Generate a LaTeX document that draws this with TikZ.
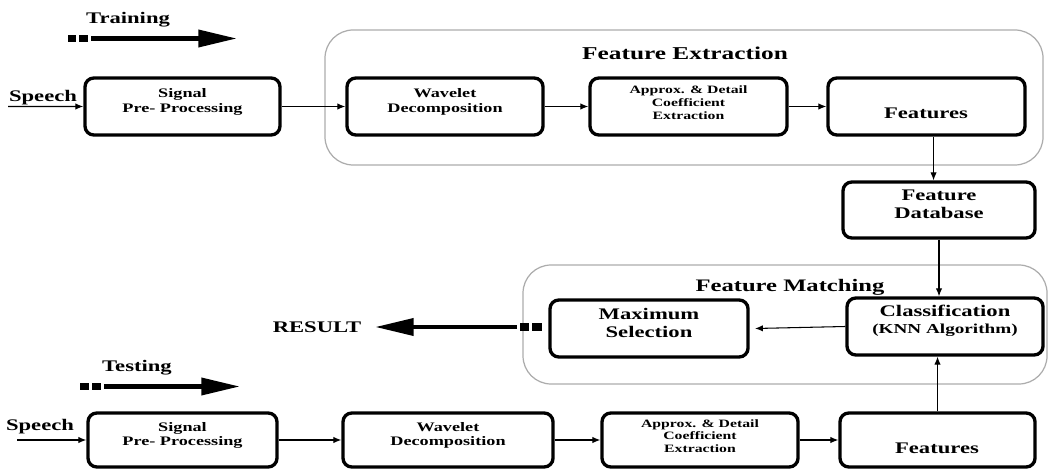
\documentclass[tikz,border=0pt]{standalone}
\usepackage{fontspec}
\setmainfont{Liberation Serif}[FakeStretch=1.4]
\usetikzlibrary{arrows.meta,fit}
\newcommand\fsz[2]{\fontsize{#1}{#2}\selectfont}
\begin{document}
\begin{tikzpicture}[x=0.02cm,y=-0.02cm,
  blk/.style={draw, line width=1.9pt, rounded corners=5pt, inner sep=0pt, align=center},
  grp/.style={draw=gray!65, line width=0.7pt, rounded corners=16pt, inner sep=0pt},
  conn/.style={-{Latex[length=4.5pt,width=3.6pt]}, line width=0.6pt},
  big/.style={-{Triangle[length=22pt,width=9.5pt]}, line width=2.6pt},
  sq/.style={fill=black},
  lbl/.style={font=\bfseries\fsz{9.2}{10.2}, inner sep=1pt},
  small/.style={font=\bfseries\fsz{7.4}{8.2}},
  tiny/.style={font=\bfseries\fsz{6.4}{7.3}},
  mid/.style={font=\bfseries\fsz{9.2}{10.2}}]
\useasboundingbox (0,0) rectangle (1050,469);

% groups
\node[grp, fit={(325,30)(1043,165)}] (fe) {};
\node[grp, fit={(523,265)(1047,384)}] (fm) {};
\node[font=\bfseries\fsz{10.3}{12}] (fel) at (685,53) {Feature Extraction};
\node[font=\bfseries\fsz{10}{12}] (fml) at (790,287) {Feature Matching};

% legend
\node[lbl] (trn) at (128,20) {Training};
\fill[sq] (68,35) rectangle (76,42);
\fill[sq] (79,35) rectangle (88,42);
\coordinate (t1) at (91,38.5);
\coordinate (t2) at (237,38.5);
\draw[big] (t1) -- (t2);

\node[lbl] (tst) at (137,368) {Testing};
\fill[sq] (80,383) rectangle (89,390);
\fill[sq] (92,383) rectangle (101,390);
\coordinate (u1) at (104,386.5);
\coordinate (u2) at (240,386.5);
\draw[big] (u1) -- (u2);

% training row
\node[lbl] (sp1) at (43,98) {Speech};
\node[blk, small, fit={(85,78)(280,135)}] (s1) {Signal\\Pre- Processing};
\node[blk, small, fit={(347,78)(543,135)}] (w1) {Wavelet\\Decomposition};
\node[blk, tiny, fit={(590,78)(787,135)}] (a1) {Approx. \& Detail\\Coefficient\\Extraction};
\node[blk, fit={(828,78)(1025,135)}] (f1) {};
\node[mid] (f1l) at (926,113) {Features};
\node[blk, mid, fit={(843,182)(1035,238)}] (db) {Feature\\Database};

\coordinate (in1) at (8,106.5);
\draw[conn] (in1) -- (s1.west);
\draw[conn] (s1) -- (w1);
\draw[conn] (w1) -- (a1);
\draw[conn] (a1) -- (f1);
\draw[conn] ([xshift=4]f1.south) -- ([xshift=4]f1.south |- db.north);

% matching
\node[blk, mid, fit={(847,298)(1043,355)}] (cl) {Classification\\{\fsz{7.8}{8.6}(KNN Algorithm)}};
\node[blk, mid, fit={(550,300)(748,357)}] (mx) {Maximum\\Selection};
\draw[conn] (db.south) -- (db.south |- cl.north);
\draw[conn] (cl.west) -- (mx.east -| 755,0);

\node[lbl] (res) at (317,327) {RESULT};
\fill[sq] (520,323) rectangle (529,331);
\fill[sq] (532,323) rectangle (542,331);
\coordinate (r1) at (517,327);
\coordinate (r2) at (375,327);
\draw[big] (r1) -- (r2);

% testing row
\node[lbl] (sp2) at (40,427) {Speech};
\node[blk, small, fit={(88,413)(277,467)}] (s2) {Signal\\Pre- Processing};
\node[blk, small, fit={(343,413)(553,467)}] (w2) {Wavelet\\Decomposition};
\node[blk, tiny, fit={(602,413)(798,467)}] (a2) {Approx. \& Detail\\Coefficient\\Extraction};
\node[blk, fit={(840,413)(1035,467)}] (f2) {};
\node[mid] (f2l) at (937,448) {Features};

\coordinate (in2) at (17,440);
\draw[conn] (in2) -- (s2.west);
\draw[conn] (s2) -- (w2);
\draw[conn] (w2) -- (a2);
\draw[conn] (a2) -- (f2);
\draw[conn] (f2.north) -- (f2.north |- cl.south);
\end{tikzpicture}
\end{document}
